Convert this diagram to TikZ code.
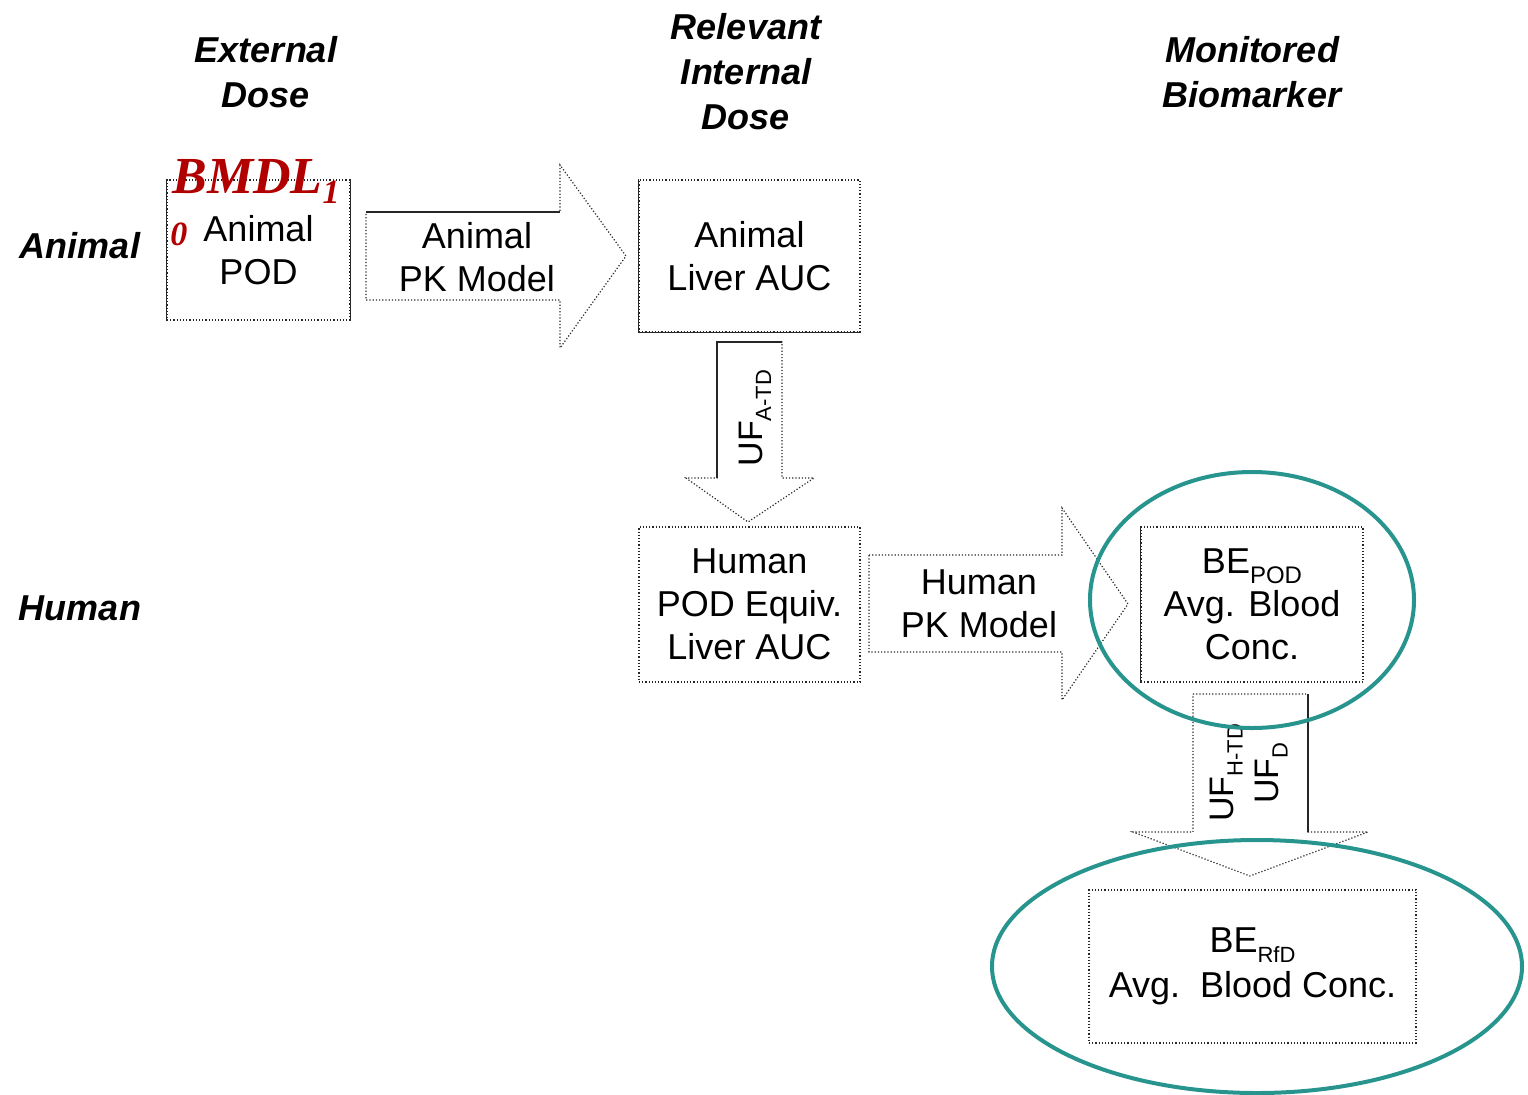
\documentclass[tikz,border=0pt]{standalone}
\usepackage{fontspec}
\setmainfont{Liberation Sans}
\newfontfamily\serifbi{Liberation Serif}
\usepackage{xcolor}
\usetikzlibrary{positioning, shapes.geometric}

\definecolor{doseRed}{RGB}{176,0,0}
\definecolor{ringTeal}{RGB}{40,148,142}

% small lowered index, sans
\newcommand{\lowsub}[2][11]{\raisebox{-0.5ex}{\fontsize{#1}{#1}\selectfont #2}}

\begin{document}
\begin{tikzpicture}[
        x=0.5pt,
        y=-0.5pt,
        head/.style={font=\fontsize{18}{22.5}\selectfont\bfseries\itshape,align=center},
        rowlbl/.style={font=\fontsize{18}{22}\selectfont\bfseries\itshape},
        box/.style={draw=black!85,densely dotted,line width=0.6pt,align=center,inner sep=0pt,font=\fontsize{18}{21.5}\selectfont},
        blockarrow/.style={draw=black!85,densely dotted,line width=0.6pt},
        solidside/.style={draw=black!85,line width=0.6pt},
        txt/.style={align=center,font=\fontsize{18}{21.5}\selectfont},
        uflbl/.style={rotate=90,align=center,font=\fontsize{17}{22.5}\selectfont},
        bmdl/.style={text=doseRed,inner sep=0pt,font=\serifbi\bfseries\itshape\fontsize{26}{26}\selectfont},
        ring/.style={draw=ringTeal,line width=2pt,ellipse,inner sep=0pt}
    ]
        \useasboundingbox (0,0) rectangle (1528,1094);
        % column and row headings
        \node[head] (hExt) at (266,72) {External\\Dose};
        \node[head] (hInt) at (746,72) {Relevant\\Internal\\Dose};
        \node[head] (hBio) at (1252,72) {Monitored\\Biomarker};
        \node[rowlbl] (rAnimal) at (80,246) {Animal};
        \node[rowlbl] (rHuman) at (80,608) {Human};

        % boxes
        \node[box,minimum width=91.5pt,minimum height=70pt] (pod) at (258.5,250) {Animal\\POD};
        \node[box,minimum width=110.5pt,minimum height=76pt] (aLiver) at (749.5,256) {Animal\\Liver AUC};
        \node[box,minimum width=110.5pt,minimum height=77.5pt] (hLiver) at (749.5,604.5) {Human\\POD Equiv.\\Liver AUC};
        \node[box,minimum width=111pt,minimum height=77.5pt] (bePod) at (1252,604.5) {BE\lowsub[12]{POD}\\Avg. Blood\\Conc.};
        \node[box,minimum width=163.5pt,minimum height=76.5pt] (beRfd) at (1252.5,966.5) {BE\lowsub{RfD}\\[1pt]Avg.\ \ Blood Conc.};
        \draw[solidside] (pod.north west) -- (pod.south west) (pod.north east) -- (pod.south east);
        \draw[solidside] (aLiver.north west) -- (aLiver.south west) -- (aLiver.south east);
        \draw[solidside] (bePod.north west) -- (bePod.south west);

        % BMDL10 label spilling over the POD box
        \node[bmdl,anchor=base west] (bmdlTxt) at (172,193) {BMDL\raisebox{-5pt}{\fontsize{17}{17}\selectfont 1}};
        \node[bmdl,anchor=base west,font=\serifbi\bfseries\itshape\fontsize{17}{17}\selectfont] (bmdlZero) at (170,245) {0};

        % block arrows
        \draw[blockarrow] (366,212) -- (560,212) -- (560,165) -- (626,256) -- (560,348)
            -- (560,300) -- (366,300) -- cycle;
        \draw[solidside] (366,212) -- (560,212);
        \node[txt] (aPK) at (477,257) {Animal\\PK Model};

        \draw[blockarrow] (717,342) -- (782,342) -- (782,478) -- (814,478) -- (748,522)
            -- (686,478) -- (717,478) -- cycle;
        \draw[solidside] (782,342) -- (717,342) -- (717,478);
        \node[uflbl] (ufA) at (755,418) {UF\lowsub{A-TD}};

        \draw[blockarrow] (869,555) -- (1062,555) -- (1062,508) -- (1128,604) -- (1062,700)
            -- (1062,652) -- (869,652) -- cycle;
        \node[txt] (hPK) at (979,604) {Human\\PK Model};

        \draw[blockarrow] (1193,694) -- (1308,694) -- (1308,832) -- (1368,832) -- (1250,876)
            -- (1133,832) -- (1193,832) -- cycle;
        \draw[solidside] (1308,694) -- (1308,832);
        \node[uflbl] (ufH) at (1249,773) {UF\lowsub{H-TD}\\UF\lowsub{D}};

        % highlight rings
        \node[ring,minimum width=162pt,minimum height=128pt] (ringPod) at (1252,600) {};
        \node[ring,minimum width=265pt,minimum height=126.5pt] (ringRfd) at (1257,966.5) {};
    \end{tikzpicture}
\end{document}
